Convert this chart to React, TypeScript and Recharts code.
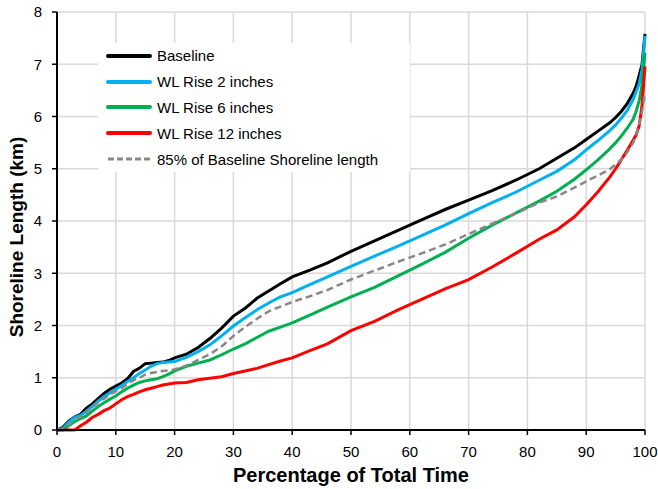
import { LineChart, Line, XAxis, YAxis, CartesianGrid } from 'recharts';

const FONT = '"Liberation Sans", Arial, sans-serif';

const pct = [0, 1, 2, 3, 4, 5, 6, 7, 8, 9, 10, 11, 12, 13, 14, 15, 16, 17, 18, 19, 20, 22, 24, 26, 28, 30, 32, 34, 36, 38, 40, 43, 46, 50, 54, 58, 62, 66, 70, 74, 78, 82, 85, 88, 90, 92, 94, 95, 96, 97, 98, 98.5, 99, 99.5, 100];

const baseline = [0, 0.05, 0.17, 0.25, 0.3, 0.42, 0.5, 0.6, 0.7, 0.78, 0.84, 0.9, 0.98, 1.12, 1.18, 1.27, 1.28, 1.29, 1.3, 1.33, 1.38, 1.45, 1.58, 1.75, 1.95, 2.18, 2.33, 2.52, 2.66, 2.8, 2.93, 3.06, 3.2, 3.42, 3.62, 3.82, 4.02, 4.22, 4.4, 4.58, 4.78, 5.0, 5.2, 5.4, 5.56, 5.72, 5.88, 5.98, 6.1, 6.25, 6.45, 6.58, 6.78, 7.0, 7.58];

const wl2 = [0, 0.03, 0.15, 0.24, 0.28, 0.36, 0.45, 0.55, 0.64, 0.71, 0.78, 0.85, 0.93, 1.0, 1.08, 1.15, 1.22, 1.27, 1.29, 1.3, 1.31, 1.39, 1.5, 1.63, 1.8, 1.99, 2.15, 2.3, 2.43, 2.55, 2.63, 2.78, 2.93, 3.13, 3.33, 3.52, 3.72, 3.92, 4.14, 4.35, 4.55, 4.78, 4.95, 5.17, 5.36, 5.54, 5.73, 5.84, 5.97, 6.12, 6.33, 6.48, 6.62, 6.9, 7.55];

const wl6 = [0, 0, 0.08, 0.16, 0.22, 0.27, 0.36, 0.45, 0.52, 0.59, 0.65, 0.73, 0.8, 0.86, 0.91, 0.94, 0.96, 0.98, 1.02, 1.07, 1.13, 1.22, 1.28, 1.34, 1.44, 1.55, 1.65, 1.77, 1.89, 1.97, 2.05, 2.2, 2.35, 2.55, 2.73, 2.95, 3.17, 3.4, 3.67, 3.92, 4.15, 4.38, 4.57, 4.8, 4.98, 5.17, 5.38, 5.5, 5.63, 5.78, 5.95, 6.1, 6.3, 6.6, 7.22];

const wl12 = [0, 0, 0, 0, 0.08, 0.15, 0.24, 0.3, 0.37, 0.42, 0.5, 0.58, 0.64, 0.68, 0.73, 0.77, 0.8, 0.83, 0.86, 0.88, 0.9, 0.91, 0.96, 0.99, 1.02, 1.08, 1.13, 1.18, 1.25, 1.32, 1.38, 1.52, 1.65, 1.9, 2.08, 2.3, 2.5, 2.7, 2.88, 3.12, 3.38, 3.65, 3.83, 4.08, 4.31, 4.56, 4.84, 5.0, 5.18, 5.36, 5.55, 5.65, 5.82, 6.22, 6.96];

const pct85 = [0, 0.02, 0.1, 0.2, 0.25, 0.33, 0.43, 0.53, 0.6, 0.68, 0.74, 0.8, 0.88, 0.95, 1.0, 1.06, 1.09, 1.11, 1.13, 1.14, 1.16, 1.23, 1.34, 1.45, 1.6, 1.8, 1.97, 2.13, 2.27, 2.36, 2.45, 2.56, 2.68, 2.88, 3.05, 3.22, 3.38, 3.55, 3.75, 3.95, 4.14, 4.35, 4.47, 4.64, 4.76, 4.87, 4.99, 5.08, 5.18, 5.32, 5.5, 5.65, 5.85, 6.1, 6.45];

const xTicks = [0, 10, 20, 30, 40, 50, 60, 70, 80, 90, 100];
const yTicks = [0, 1, 2, 3, 4, 5, 6, 7, 8];

const series = [
  { key: 'baseline', name: 'Baseline', color: '#000000', dash: undefined as string | undefined, width: 3 },
  { key: 'wl2', name: 'WL Rise 2 inches', color: '#00b0f0', dash: undefined, width: 3 },
  { key: 'wl6', name: 'WL Rise 6 inches', color: '#00b050', dash: undefined, width: 3 },
  { key: 'wl12', name: 'WL Rise 12 inches', color: '#ff0000', dash: undefined, width: 3 },
  { key: 'pct85', name: '85% of Baseline Shoreline length', color: '#888888', dash: '7 4', width: 2.5 },
];

const data = pct.map((p, i) => ({
  pct: p,
  baseline: baseline[i],
  wl2: wl2[i],
  wl6: wl6[i],
  wl12: wl12[i],
  pct85: pct85[i],
}));

function LegendBox() {
  return (
    <div style={{
      position: 'absolute', left: 98, top: 43, width: 312, height: 129, boxSizing: 'border-box',
      background: '#fff', padding: '0 0 0 8px', fontFamily: FONT, fontSize: 15, color: '#000',
    }}>
      {series.map(s => (
        <div key={s.key} style={{ display: 'flex', alignItems: 'center', height: 25.8 }}>
          <svg width={46} height={10} style={{ marginRight: 5 }}>
            <line x1={2} y1={5} x2={44} y2={5} stroke={s.color} strokeWidth={s.dash ? 3 : 4} strokeDasharray={s.dash ? '6 3' : undefined} strokeLinecap={s.dash ? 'butt' : 'round'} />
          </svg>
          <span>{s.name}</span>
        </div>
      ))}
    </div>
  );
}

export default function App() {
  return (
    <div style={{ position: 'absolute', left: 0, top: 0, width: 658, height: 489, background: '#fff' }}>
      <LineChart width={658} height={489} data={data} margin={{ top: 12, right: 13, left: 0, bottom: 0 }}>
        <CartesianGrid stroke="#d9d9d9" strokeWidth={1.5} />
        <XAxis
          dataKey="pct" type="number" domain={[0, 100]} ticks={xTicks} height={59}
          axisLine={{ stroke: '#000', strokeWidth: 2 }} tickLine={{ stroke: '#000', strokeWidth: 1.5 }}
          tickSize={5} tickMargin={11}
          tick={{ fontSize: 15, fill: '#000', fontFamily: FONT }}
          label={{
            content: ({ viewBox }: any) => (
              <text x={viewBox.x + viewBox.width / 2} y={viewBox.y + 52} textAnchor="middle" fontFamily={FONT} fontWeight="bold" fontSize={20} fill="#000">
                Percentage of Total Time
              </text>
            ),
          }}
        />
        <YAxis
          type="number" domain={[0, 8]} ticks={yTicks} width={57}
          axisLine={{ stroke: '#000', strokeWidth: 2 }} tickLine={{ stroke: '#000', strokeWidth: 1.5 }}
          tickSize={5} tickMargin={10}
          tick={{ fontSize: 15, fill: '#000', fontFamily: FONT }}
          label={{
            content: () => {
              const cx = 16;
              const cy = 237;
              return (
                <text x={cx} y={cy} transform={`rotate(-90 ${cx} ${cy})`} textAnchor="middle" dominantBaseline="central" fontFamily={FONT} fontWeight="bold" fontSize={19} fill="#000">
                  Shoreline Length (km)
                </text>
              );
            },
          }}
        />
        {series.map(s => (
          <Line
            key={s.key} dataKey={s.key} name={s.name} stroke={s.color} strokeWidth={s.width}
            strokeDasharray={s.dash} dot={false} type="linear" isAnimationActive={false}
          />
        ))}
      </LineChart>
      <LegendBox />
    </div>
  );
}
